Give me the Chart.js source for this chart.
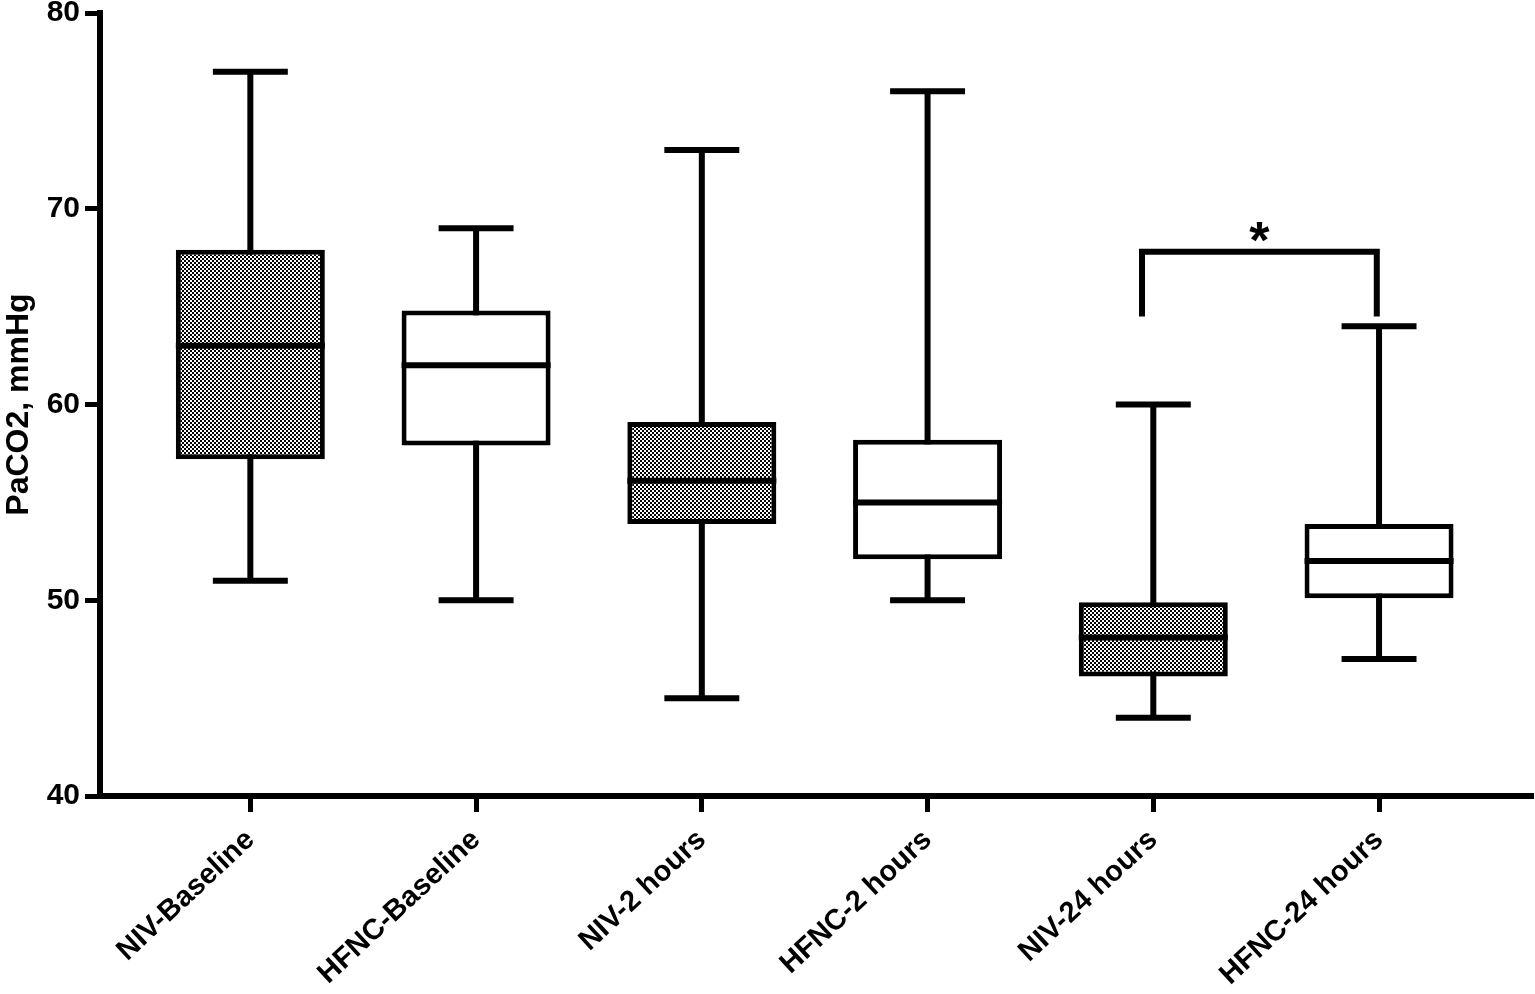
<!DOCTYPE html>
<html>
<head>
<meta charset="utf-8">
<title>PaCO2 box plot</title>
<script src="https://cdn.jsdelivr.net/npm/chart.js@4.4.1/dist/chart.umd.min.js"></script>
<style>
    html, body { margin: 0; padding: 0; background: #fff; }
    #wrap { width: 1535px; height: 994px; }
</style>
</head>
<body>
<div id="wrap"><canvas id="boxChart"></canvas></div>
<script>
const categories = ['NIV-Baseline', 'HFNC-Baseline', 'NIV-2 hours', 'HFNC-2 hours', 'NIV-24 hours', 'HFNC-24 hours'];
const whiskerMin = [51, 50, 45, 50, 44, 47];
const q1Values = [57.2, 57.9, 53.9, 52.1, 46.1, 50.1];
const medianValues = [63, 62, 56.1, 55, 48.1, 52];
const q3Values = [67.9, 64.8, 59.1, 58.2, 49.9, 53.9];
const whiskerMax = [77, 69, 73, 76, 60, 64];
const hatched = [true, false, true, false, true, false];
const yTicks = [40, 50, 60, 70, 80];

// significance bracket between NIV-24 hours and HFNC-24 hours
const bracket = { from: 3.95, to: 4.99, top: 67.8, legBottom: 64.5, label: '*' };

const fontFamily = '"Liberation Sans", Arial, Helvetica, sans-serif';

function makeChecker() {
    const c = document.createElement('canvas');
    c.width = 4;
    c.height = 4;
    const g = c.getContext('2d');
    g.fillStyle = '#fff';
    g.fillRect(0, 0, 4, 4);
    g.fillStyle = '#000';
    g.fillRect(0, 0, 2, 2);
    g.fillRect(2, 2, 2, 2);
    return g.createPattern(c, 'repeat');
}
const checker = makeChecker();

const boxDecor = {
    id: 'boxDecor',
    beforeDatasetsDraw(chart) {
        const { ctx, scales: { x, y } } = chart;
        const capHalf = (x.getPixelForValue(1) - x.getPixelForValue(0)) * 0.166;
        ctx.save();
        ctx.strokeStyle = '#000';
        ctx.lineWidth = 6;
        ctx.lineCap = 'butt';
        categories.forEach((_, i) => {
            const px = x.getPixelForValue(i);
            const yMin = y.getPixelForValue(whiskerMin[i]);
            const yMax = y.getPixelForValue(whiskerMax[i]);
            ctx.beginPath();
            ctx.moveTo(px, yMax);
            ctx.lineTo(px, yMin);
            ctx.moveTo(px - capHalf, yMax);
            ctx.lineTo(px + capHalf, yMax);
            ctx.moveTo(px - capHalf, yMin);
            ctx.lineTo(px + capHalf, yMin);
            ctx.stroke();
        });
        ctx.restore();
    },
    afterDatasetsDraw(chart) {
        const { ctx, scales: { x, y } } = chart;
        const meta = chart.getDatasetMeta(0);
        ctx.save();
        ctx.strokeStyle = '#000';
        ctx.lineWidth = 6;
        meta.data.forEach((bar, i) => {
            const { x: bx, width } = bar.getProps(['x', 'width'], true);
            const py = y.getPixelForValue(medianValues[i]);
            ctx.beginPath();
            ctx.moveTo(bx - width / 2, py);
            ctx.lineTo(bx + width / 2, py);
            ctx.stroke();
        });

        const x1 = x.getPixelForValue(bracket.from);
        const x2 = x.getPixelForValue(bracket.to);
        const yTop = y.getPixelForValue(bracket.top);
        const yLeg = y.getPixelForValue(bracket.legBottom);
        ctx.lineJoin = 'miter';
        ctx.beginPath();
        ctx.moveTo(x1, yLeg);
        ctx.lineTo(x1, yTop);
        ctx.lineTo(x2, yTop);
        ctx.lineTo(x2, yLeg);
        ctx.stroke();

        ctx.fillStyle = '#000';
        ctx.font = 'bold 52px ' + fontFamily;
        ctx.textAlign = 'center';
        ctx.textBaseline = 'alphabetic';
        ctx.fillText(bracket.label, (x1 + x2) / 2, yTop + 6);
        ctx.restore();
    }
};

new Chart(document.getElementById('boxChart'), {
    type: 'bar',
    data: {
        datasets: [{
            label: 'PaCO2',
            data: categories.map((_, i) => ({ x: i, y: [q1Values[i], q3Values[i]] })),
            backgroundColor: hatched.map(h => h ? checker : '#fff'),
            borderColor: '#000',
            borderWidth: 5,
            borderSkipped: false,
            categoryPercentage: 1,
            barPercentage: 0.66
        }]
    },
    options: {
        responsive: true,
        maintainAspectRatio: false,
        animation: false,
        layout: { padding: { top: 13, right: 2, left: 0, bottom: 0 } },
        plugins: {
            legend: { display: false },
            tooltip: { enabled: false }
        },
        scales: {
            x: {
                type: 'linear',
                offset: false,
                min: -0.666,
                max: 5.682,
                afterBuildTicks: scale => {
                    scale.ticks = categories.map((_, i) => ({ value: i }));
                },
                afterFit: scale => {
                    scale.height = 198;
                    scale.paddingLeft = 0;
                    scale.paddingRight = 0;
                },
                grid: {
                    display: true,
                    offset: false,
                    drawOnChartArea: false,
                    drawTicks: true,
                    tickLength: 16,
                    tickWidth: 5,
                    tickColor: '#000'
                },
                border: { display: true, color: '#000', width: 6 },
                ticks: {
                    autoSkip: false,
                    minRotation: 43,
                    maxRotation: 43,
                    padding: 11,
                    color: '#000',
                    font: { family: fontFamily, size: 29, weight: 'bold' },
                    callback: v => categories[v]
                }
            },
            y: {
                min: 40,
                max: 80,
                afterBuildTicks: scale => {
                    scale.ticks = yTicks.map(v => ({ value: v }));
                },
                afterFit: scale => {
                    scale.width = 100;
                    scale.paddingTop = 0;
                    scale.paddingBottom = 0;
                },
                grid: {
                    display: true,
                    drawOnChartArea: false,
                    drawTicks: true,
                    tickLength: 15,
                    tickWidth: 5,
                    tickColor: '#000'
                },
                border: { display: true, color: '#000', width: 6 },
                ticks: {
                    padding: 5,
                    color: '#000',
                    font: { family: fontFamily, size: 30, weight: 'bold' }
                },
                title: {
                    display: true,
                    text: 'PaCO2, mmHg',
                    color: '#000',
                    padding: 0,
                    font: { family: fontFamily, size: 32, weight: 'bold' }
                }
            }
        }
    },
    plugins: [boxDecor]
});
</script>
</body>
</html>
